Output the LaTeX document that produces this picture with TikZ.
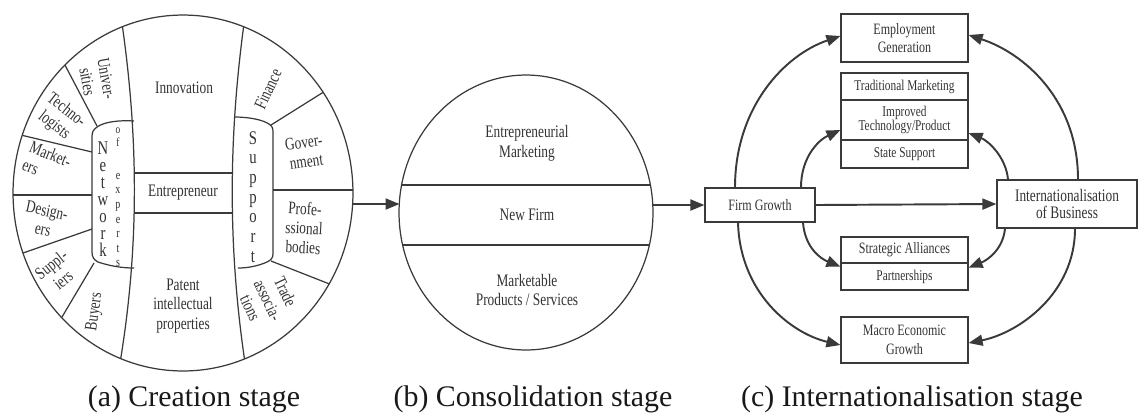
\documentclass[tikz,border=0pt]{standalone}
\usepackage{fontspec}
\setmainfont{Liberation Serif}
\newfontfamily\narrowfont{Liberation Serif}[FakeStretch=0.76]
\usetikzlibrary{arrows.meta,calc,shapes.geometric}
\definecolor{ln}{HTML}{3A3A3A}
\definecolor{tx}{HTML}{333333}
\begin{document}
\begin{tikzpicture}[x=0.02cm,y=-0.02cm,
  lnst/.style={draw=ln, line width=0.7pt},
  lbl/.style={text=tx, font=\narrowfont\fontsize{10}{11}\selectfont, align=center, inner sep=0pt},
  boxst/.style={draw=ln, line width=0.7pt, text=tx, align=center, inner sep=1pt, minimum width=2.54cm},
  arr/.style={draw=ln, line width=1.1pt, -{Triangle[length=0.28cm,width=0.22cm]}},
  captext/.style={text=black!90, font=\fontsize{17}{19}\selectfont, inner sep=0pt}
]
\fill[white] (0,0) rectangle (1139,414);
\useasboundingbox (0,0) rectangle (1139,414);

% ---------------- (a) Creation stage ----------------
\node[ellipse, lnst, minimum width=6.8cm, minimum height=7.12cm, inner sep=0pt] (A) at (183,193) {};
\begin{scope}
  \clip (183,193) ellipse [x radius=3.4cm, y radius=3.56cm];
  % central column
  \draw[lnst] (121.5,20) .. controls (139,140) and (139,250) .. (119.5,366);
  \draw[lnst] (244.5,20) .. controls (228,140) and (228,250) .. (245.5,366);
  \begin{scope}
    \clip (121.5,20) .. controls (139,140) and (139,250) .. (119.5,366)
      -- (245.5,366) .. controls (228,250) and (228,140) .. (244.5,20) -- cycle;
    \draw[lnst] (100,173) -- (260,173);
    \draw[lnst] (100,213) -- (260,213);
  \end{scope}
  % outer dividers
  \coordinate (l1) at (97,126);  \coordinate (o1) at (66,67);
  \coordinate (l2) at (92,152);  \coordinate (o2) at (25,136);
  \coordinate (l3) at (92,195);  \coordinate (o3) at (12,195);
  \coordinate (l4) at (92,229);  \coordinate (o4) at (23,253);
  \coordinate (l5) at (94,263);  \coordinate (o5) at (62,317);
  \coordinate (r1) at (271,125); \coordinate (p1) at (322,93);
  \coordinate (r2) at (273,190); \coordinate (p2) at (353,190);
  \coordinate (r3) at (271,261); \coordinate (p3) at (327,283);
  \foreach \i/\o in {l1/o1,l2/o2,l3/o3,l4/o4,l5/o5,r1/p1,r2/p2,r3/p3}
    \draw[lnst] (\i) -- ($(\i)!1.4!(\o)$);
\end{scope}
% Network column
\draw[lnst] (134,121) .. controls (118,120) and (104,122) .. (97,127)
  .. controls (93,130) and (92,132) .. (92,137) -- (92,252)
  .. controls (92,257) and (94,260) .. (98,262)
  .. controls (110,266) and (122,268) .. (134,268);
% Support column
\draw[lnst] (234,117) .. controls (250,117) and (263,120) .. (269,124)
  .. controls (272,126) and (273,128) .. (273,132) -- (273,254)
  .. controls (273,258) and (271,260) .. (267,262)
  .. controls (258,266) and (248,268) .. (238,268);

\node[lbl] (innov) at (184,88) {Innovation};
\node[lbl] (entr) at (183,193) {Entrepreneur};
\node[lbl, font=\narrowfont\fontsize{10}{11.3}\selectfont] (pat) at (183,306) {Patent\\intellectual\\properties};
\node[lbl, font=\narrowfont\fontsize{11}{9.7}\selectfont] (netw) at (103,199) {N\\e\\t\\w\\o\\r\\k};
\node[lbl, font=\narrowfont\fontsize{7}{7.4}\selectfont] (nof) at (118,137) {o\\f};
\node[lbl, font=\narrowfont\fontsize{7.5}{8.3}\selectfont] (nexp) at (118,220) {e\\x\\p\\e\\r\\t\\s};
\node[lbl, font=\narrowfont\fontsize{11}{11.2}\selectfont] (supp) at (253,197) {S\\u\\p\\p\\o\\r\\t};
\node[lbl, rotate=-80] (univ) at (97,80) {Univer-\\sities};
\node[lbl, rotate=-38] (techno) at (60,118) {Techno-\\logists};
\node[lbl, rotate=-22, align=left] (mark) at (47,163) {Market-\\ers};
\node[lbl, rotate=-12] (design) at (45,220) {Design-\\ers};
\node[lbl, rotate=38] (suppl) at (57,272) {Suppl-\\iers};
\node[lbl, rotate=82] (buy) at (95,312) {Buyers};
\node[lbl, rotate=65] (fin) at (268,89) {Finance};
\node[lbl, rotate=8] (gov) at (305,152) {Gover-\\nment};
\node[lbl, rotate=-3] (prof) at (304,228) {Profe-\\ssional\\bodies};
\node[lbl, rotate=-65] (trade) at (268,300) {Trade\\associa-\\tions};

% ---------------- (b) Consolidation stage ----------------
\node[ellipse, lnst, minimum width=5.08cm, minimum height=5.5cm, inner sep=0pt] (B) at (526,212.5) {};
\begin{scope}
  \clip (526,212.5) ellipse [x radius=2.54cm, y radius=2.75cm];
  \draw[lnst] (390,185) -- (660,185);
  \draw[lnst] (390,245) -- (660,245);
\end{scope}
\node[lbl, font=\narrowfont\fontsize{10}{11.3}\selectfont] (em) at (527,143) {Entrepreneurial\\Marketing};
\node[lbl] (nf) at (527,215) {New Firm};
\node[lbl, font=\narrowfont\fontsize{10}{11.3}\selectfont] (mp) at (527,290) {Marketable\\Products / Services};

\coordinate (a1) at (353,204);
\coordinate (b1) at (399.5,204);
\coordinate (b2) at (652.5,205);
\draw[arr] (a1) -- (b1);

% ---------------- (c) Internationalisation stage ----------------
\node[boxst, minimum width=2.2cm, minimum height=0.68cm, font=\narrowfont\fontsize{9}{10}\selectfont] (FG) at (760,205) {Firm Growth};
\node[boxst, minimum height=0.96cm, font=\narrowfont\fontsize{9}{10}\selectfont] (EG) at (904.5,38) {Employment\\Generation};
\node[boxst, minimum height=0.54cm, font=\narrowfont\fontsize{8.5}{9}\selectfont] (TM) at (904.5,86.5) {Traditional Marketing};
\node[boxst, minimum height=0.80cm, font=\narrowfont\fontsize{8.5}{8}\selectfont] (IT) at (904.5,120) {Improved\\Technology/Product};
\node[boxst, minimum height=0.56cm, font=\narrowfont\fontsize{8.5}{9}\selectfont] (SS) at (904.5,154) {State Support};
\node[boxst, minimum width=2.8cm, minimum height=0.96cm, font=\narrowfont\fontsize{10}{10.2}\selectfont] (IB) at (1067,204) {Internationalisation\\of Business};
\node[boxst, minimum height=0.52cm, font=\narrowfont\fontsize{9}{10}\selectfont] (SA) at (904.5,250) {Strategic Alliances};
\node[boxst, minimum height=0.54cm, font=\narrowfont\fontsize{8.5}{9}\selectfont] (PA) at (904.5,276.5) {Partnerships};
\node[boxst, minimum height=0.92cm, font=\narrowfont\fontsize{9}{10.5}\selectfont] (MG) at (904.5,340) {Macro Economic\\Growth};

\draw[arr] (b2) -- (FG.west);
\draw[arr] (FG.east) -- (IB.west);
\draw[arr] ($(FG.north)+(-25,0)$) .. controls +(0,-80) and +(-56,19) .. ($(EG.west)+(0,-2)$);
\draw[arr] ($(FG.north)+(41,0)$) .. controls +(0,-30) and +(-22,10) .. ($(IT.west)+(0,10)$);
\draw[arr] ($(FG.south)+(-22,0)$) .. controls +(2,70) and +(-50,-12) .. ($(MG.west)+(0,5)$);
\draw[arr] ($(FG.south)+(43,0)$) .. controls +(2,25) and +(-20,-8) .. ($(SA.south west)+(0,3)$);
\draw[arr] ($(IB.north)+(11,0)$) .. controls +(0,-80) and +(55,18) .. ($(EG.east)+(0,-3)$);
\draw[arr] ($(IB.north)+(-59,0)$) .. controls +(-2,-22) and +(20,8) .. ($(IT.east)+(0,13)$);
\draw[arr] ($(IB.south)+(-62,0)$) .. controls +(-2,20) and +(20,-8) .. ($(SA.south east)+(0,4)$);
\draw[arr] ($(IB.south)+(8,0)$) .. controls +(0,65) and +(50,-10) .. ($(MG.east)+(0,3)$);

% ---------------- captions ----------------
\node[captext] (capa) at (194,399) {(a) Creation stage};
\node[captext] (capb) at (533,399) {(b) Consolidation stage};
\node[captext] (capc) at (912,399) {(c) Internationalisation stage};
\end{tikzpicture}
\end{document}
